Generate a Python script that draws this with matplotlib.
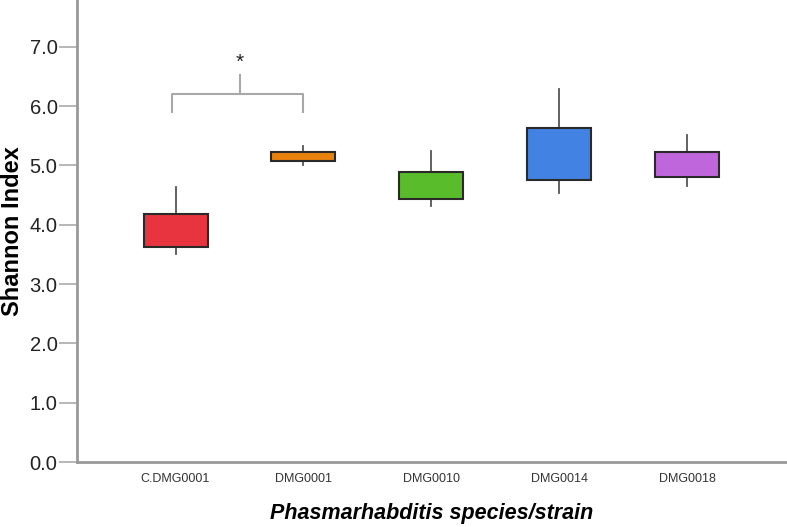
import matplotlib
matplotlib.use("Agg")
import matplotlib.pyplot as plt

plt.rcParams['font.family'] = ['Liberation Sans', 'DejaVu Sans']

categories = ["C.DMG0001", "DMG0001", "DMG0010", "DMG0014", "DMG0018"]
whisker_low = [3.50, 5.01, 4.32, 4.54, 4.66]
q1 = [3.63, 5.07, 4.43, 4.76, 4.81]
median = [3.76, 5.11, 4.54, 4.98, 4.94]
q3 = [4.19, 5.22, 4.89, 5.63, 5.22]
whisker_high = [4.63, 5.32, 5.24, 6.29, 5.51]
colors = ["#E8343E", "#E8820C", "#59BC2B", "#4282E2", "#C066DC"]
yticks = [0.0, 1.0, 2.0, 3.0, 4.0, 5.0, 6.0, 7.0]

# significance bracket (data units)
bracket_pair = (0, 1)
bracket_y = 6.20
bracket_drop = 5.90
bracket_stem = 6.53
star_y = 6.58

fig = plt.figure(figsize=(7.87, 5.27), dpi=100)
ax = fig.add_axes([0.0978, 0.1233, 0.9009, 0.8767])

stats = []
for i, c in enumerate(categories):
    stats.append(dict(label=c, whislo=whisker_low[i], q1=q1[i], med=median[i],
                      q3=q3[i], whishi=whisker_high[i], fliers=[]))

bp = ax.bxp(stats, positions=range(len(categories)), widths=0.5,
            patch_artist=True, showcaps=False, showfliers=False,
            boxprops=dict(edgecolor="#2a2a2a", linewidth=1.5),
            medianprops=dict(color="#2a2a2a", linewidth=1.5),
            whiskerprops=dict(color="#555555", linewidth=1.3))
for patch, col in zip(bp['boxes'], colors):
    patch.set_facecolor(col)
    patch.set_zorder(3)

ax.set_xlim(-0.77, 4.77)
ax.set_ylim(0, 7.79)
ax.set_yticks(yticks)
ax.set_yticklabels([f"{v:.1f}" for v in yticks], fontsize=14.5, color="#222222")
ax.set_xticks(range(len(categories)))
ax.set_xticklabels(categories, fontsize=9, color="#333333")
ax.tick_params(axis='x', length=0, pad=8)
ax.tick_params(axis='y', length=13, width=1.2, color="#aaaaaa", pad=1.0)

for s in ['top', 'right']:
    ax.spines[s].set_visible(False)
for s in ['left', 'bottom']:
    ax.spines[s].set_color("#999999")
    ax.spines[s].set_linewidth(2)

fig.text(1.0 / 787, 1 - 231 / 527, "Shannon Index", rotation=90, ha='left', va='center',
         fontsize=17, fontweight='bold')
ax.set_xlabel("Phasmarhabditis species/strain", fontsize=15.5, fontweight='bold',
              style='italic', labelpad=13)

# bracket
x0, x1 = bracket_pair
xm = (x0 + x1) / 2
ax.plot([x0 - 0.03, x0 - 0.03, x1, x1], [bracket_drop, bracket_y, bracket_y, bracket_drop],
        color="#a8a8a8", linewidth=1.5)
ax.plot([xm, xm], [bracket_y, bracket_stem], color="#a8a8a8", linewidth=1.5)
ax.text(xm, star_y, "*", ha='center', va='bottom', fontsize=15, color="#222222")

fig.savefig("out.png", dpi=100)
